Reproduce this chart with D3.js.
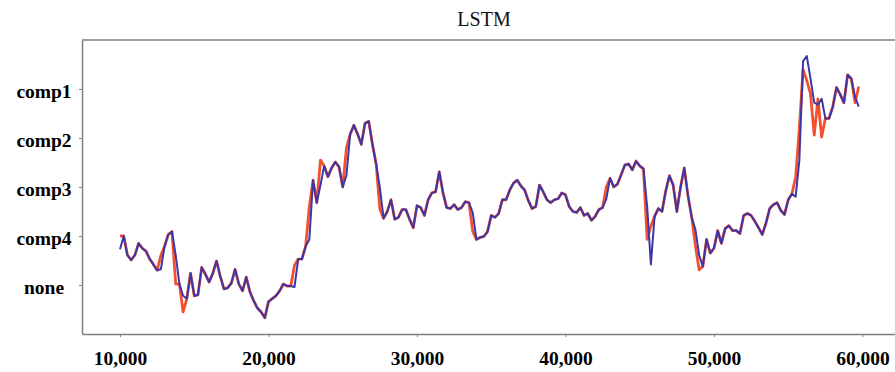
<!DOCTYPE html>
<html>
<head>
<meta charset="utf-8">
<script src="https://cdn.jsdelivr.net/npm/d3@7"></script>
<style>
  html, body { margin: 0; padding: 0; background: #ffffff; }
  svg { display: block; }
</style>
</head>
<body>
<svg id="chart" width="895" height="372"></svg>
<script>
// Sample positions: one reading every 250 steps, starting at step 10,000
const startStep = 10000;
const stepSize = 250;

// Regime levels shown on the vertical axis (value = index)
const categories = ["none", "comp4", "comp3", "comp2", "comp1"];

// Horizontal tick values
const xTicks = [10000, 20000, 30000, 40000, 50000, 60000];

// Observed series (drawn underneath)
const observed = [
  1.00,1.00,0.61,0.51,0.61,0.85,0.75,0.69,0.53,0.42,
  0.30,0.60,0.79,1.03,1.09,0.02,0.02,-0.55,-0.28,0.24,
  -0.22,-0.20,0.36,0.22,0.06,0.24,0.49,0.18,-0.08,-0.06,
  0.04,0.32,0.02,-0.12,0.16,-0.14,-0.32,-0.47,-0.55,-0.67,
  -0.34,-0.28,-0.22,-0.12,0.02,-0.02,-0.02,0.40,0.53,0.53,
  0.79,1.60,2.14,1.68,2.55,2.43,2.21,2.39,2.51,2.41,
  2.00,2.80,3.08,3.26,3.08,2.87,3.30,3.34,2.87,2.47,
  1.55,1.36,1.50,1.74,1.34,1.38,1.54,1.54,1.34,1.17,
  1.62,1.58,1.42,1.74,1.88,1.90,2.31,1.88,1.58,1.56,
  1.64,1.54,1.58,1.70,1.68,1.10,0.93,0.97,0.99,1.09,
  1.42,1.38,1.46,1.74,1.74,1.94,2.08,2.14,2.02,1.94,
  1.72,1.56,1.60,2.04,1.90,1.74,1.68,1.74,1.76,1.88,
  1.84,1.60,1.50,1.48,1.58,1.42,1.46,1.32,1.40,1.54,
  1.58,2.00,2.18,2.00,2.06,2.25,2.45,2.47,2.35,2.53,
  2.43,2.37,0.93,1.20,1.40,1.56,1.50,1.92,2.23,2.04,
  1.50,2.00,2.39,1.82,1.38,0.80,0.31,0.38,0.93,0.65,
  0.75,1.11,0.85,1.15,1.21,1.11,1.11,1.05,1.42,1.46,
  1.42,1.30,1.17,1.03,1.26,1.56,1.64,1.68,1.52,1.44,
  1.74,1.86,2.20,3.20,4.40,4.17,3.90,3.06,3.80,3.02,
  3.40,3.40,3.64,4.03,3.89,3.72,4.29,4.21,3.72,4.05
];

// LSTM output (drawn on top)
const lstm = [
  0.73,1.00,0.61,0.51,0.61,0.85,0.75,0.69,0.53,0.42,
  0.30,0.32,0.79,1.03,1.09,0.61,0.02,-0.22,-0.28,0.24,
  -0.22,-0.20,0.36,0.22,0.06,0.24,0.49,0.18,-0.08,-0.06,
  0.04,0.32,0.02,-0.12,0.16,-0.14,-0.32,-0.47,-0.55,-0.67,
  -0.34,-0.28,-0.22,-0.12,0.02,-0.02,-0.02,-0.04,0.53,0.53,
  0.79,0.93,2.14,1.68,2.04,2.43,2.21,2.39,2.51,2.41,
  2.00,2.24,3.08,3.26,3.08,2.87,3.30,3.34,2.87,2.47,
  1.98,1.36,1.50,1.74,1.34,1.38,1.54,1.54,1.34,1.17,
  1.62,1.58,1.42,1.74,1.88,1.90,2.31,1.88,1.58,1.56,
  1.64,1.54,1.58,1.70,1.68,1.48,0.93,0.97,0.99,1.09,
  1.42,1.38,1.46,1.74,1.74,1.94,2.08,2.14,2.02,1.94,
  1.72,1.56,1.60,2.04,1.90,1.74,1.68,1.74,1.76,1.88,
  1.84,1.60,1.50,1.48,1.58,1.42,1.46,1.32,1.40,1.54,
  1.58,1.76,2.18,2.00,2.06,2.25,2.45,2.47,2.35,2.53,
  2.43,2.37,1.60,0.42,1.40,1.56,1.50,1.92,2.23,2.04,
  1.50,2.00,2.39,1.82,1.38,1.13,0.61,0.38,0.93,0.65,
  0.75,1.11,0.85,1.15,1.21,1.11,1.11,1.05,1.42,1.46,
  1.42,1.30,1.17,1.03,1.26,1.56,1.64,1.68,1.52,1.44,
  1.74,1.86,1.80,2.55,4.57,4.67,4.21,3.72,3.68,3.80,
  3.40,3.40,3.64,4.03,3.89,3.72,4.29,4.21,3.84,3.64
];

const svg = d3.select("#chart");
const frameColor = "#7f7f7f";
const serif = "'Liberation Serif', 'Times New Roman', serif";

const plot = { left: 82, right: 895, top: 40, bottom: 334 };

const x = d3.scaleLinear().domain([7440, 62190]).range([plot.left, plot.right]);
const y = d3.scaleLinear().domain([-1, 5]).range([plot.bottom, plot.top]);

// Title
svg.append("text")
  .attr("x", 484).attr("y", 26)
  .attr("text-anchor", "middle")
  .attr("font-family", serif)
  .attr("font-size", 20)
  .attr("fill", "#111")
  .text("LSTM");

// Top frame edge
svg.append("line")
  .attr("x1", plot.left).attr("x2", plot.right)
  .attr("y1", plot.top).attr("y2", plot.top)
  .attr("stroke", frameColor).attr("stroke-width", 1.5);

// Horizontal axis
const gx = svg.append("g")
  .attr("transform", `translate(0,${plot.bottom})`)
  .call(d3.axisBottom(x).tickValues(xTicks).tickSizeInner(3).tickSizeOuter(0)
    .tickFormat(d3.format(",")));

// Vertical axis with regime names
const gy = svg.append("g")
  .attr("transform", `translate(${plot.left},0)`)
  .call(d3.axisLeft(y).tickValues(d3.range(categories.length)).tickSizeInner(3).tickSizeOuter(0)
    .tickFormat(i => categories[i]));

[gx, gy].forEach(g => {
  g.select(".domain").attr("stroke", frameColor).attr("stroke-width", 1.5);
  g.selectAll(".tick line").attr("stroke", frameColor).attr("stroke-width", 1);
  g.selectAll(".tick text")
    .attr("font-family", serif)
    .attr("font-weight", "bold")
    .attr("font-size", 19.5)
    .attr("fill", "#000");
});

gx.selectAll(".tick text").attr("y", 31).attr("dy", null);
gy.selectAll(".tick text")
  .attr("x", -38).attr("dy", null).attr("y", 8)
  .attr("text-anchor", "middle");

// Series lines
const line = d3.line()
  .x((d, i) => x(startStep + i * stepSize))
  .y(d => y(d))
  .curve(d3.curveLinear);

svg.append("path")
  .datum(observed)
  .attr("fill", "none")
  .attr("stroke", "#f2502f")
  .attr("stroke-width", 2.8)
  .attr("stroke-linejoin", "round")
  .attr("d", line);

svg.append("path")
  .datum(lstm)
  .attr("fill", "none")
  .attr("stroke", "#3c36a6")
  .attr("stroke-width", 2.0)
  .attr("stroke-linejoin", "round")
  .attr("d", line);
</script>
</body>
</html>
